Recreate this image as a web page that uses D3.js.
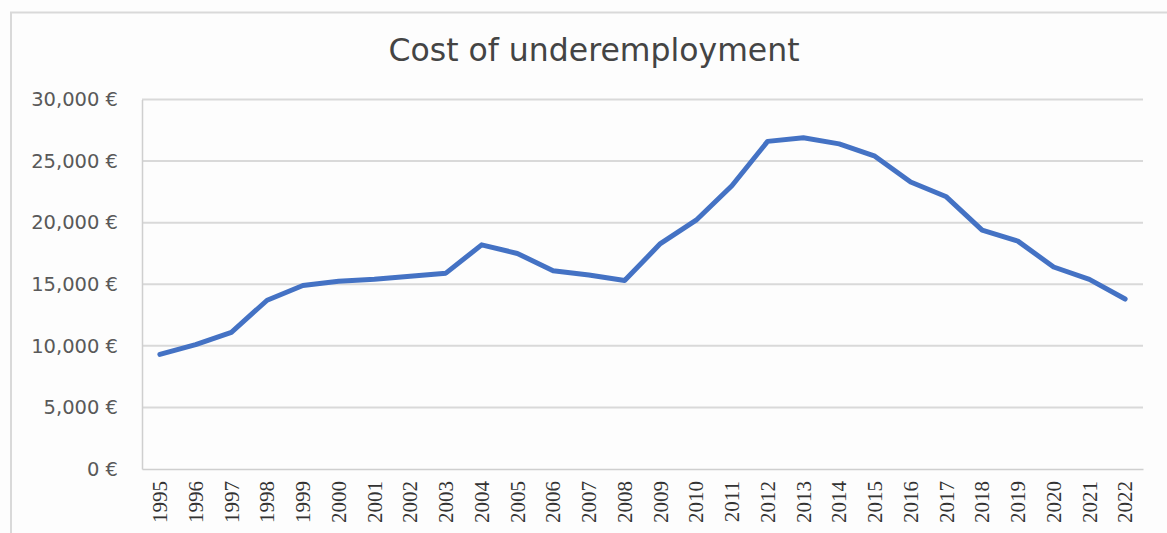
<!DOCTYPE html>
<html><head><meta charset="utf-8">
<script src="https://cdn.jsdelivr.net/npm/d3@7"></script>
<style>html,body{margin:0;padding:0;background:#fff;}</style>
</head><body>
<svg id="c" width="1167" height="533"></svg>
<script>
const years = ["1995","1996","1997","1998","1999","2000","2001","2002","2003","2004","2005","2006","2007","2008","2009","2010","2011","2012","2013","2014","2015","2016","2017","2018","2019","2020","2021","2022"];
const costs = [9300,10100,11100,13700,14900,15250,15400,15650,15900,18200,17500,16100,15750,15300,18300,20200,23000,26600,26900,26400,25400,23300,22100,19400,18500,16400,15400,13800];
const yTicks = [0,5000,10000,15000,20000,25000,30000];
const title = "Cost of underemployment";

const svg = d3.select("#c");
const W = 1167, H = 533;
const m = {left:142, right:1143, top:99.5, bottom:469};

svg.append("rect").attr("x",0).attr("y",0).attr("width",W).attr("height",H).attr("fill","#fdfdfd");
// frame
svg.append("path").attr("d",`M11,${H} L11,12.5 L${W},12.5`).attr("fill","none").attr("stroke","#d9d9d9").attr("stroke-width",2);

const x = d3.scaleBand().domain(years).range([m.left,m.right]);
const y = d3.scaleLinear().domain([0,30000]).range([m.bottom,m.top]);

// gridlines
svg.append("g").selectAll("line").data(yTicks.filter(d=>d>0)).join("line")
  .attr("x1",m.left).attr("x2",m.right).attr("y1",d=>y(d)).attr("y2",d=>y(d))
  .attr("stroke","#d9d9d9").attr("stroke-width",2);

// y axis
const yAxis = d3.axisLeft(y).tickValues(yTicks).tickSize(0).tickPadding(24)
  .tickFormat(d=>d3.format(",")(d)+" €");
const gy = svg.append("g").attr("transform",`translate(${m.left},0)`).call(yAxis);
gy.select(".domain").attr("stroke","#cfcfcf").attr("stroke-width",1.5);
gy.selectAll("text").attr("font-family","'DejaVu Sans', sans-serif").attr("font-size",19.5).attr("fill","#595959");

// x axis
const xAxis = d3.axisBottom(x).tickSize(0).tickPadding(0);
const gx = svg.append("g").attr("transform",`translate(0,${m.bottom})`).call(xAxis);
gx.select(".domain").attr("stroke","#cfcfcf").attr("stroke-width",1.5);
gx.selectAll("text")
  .attr("font-family","'Liberation Serif', serif").attr("font-size",21).attr("fill","#333333")
  .attr("text-anchor","end").attr("dy","0.35em")
  .attr("transform","rotate(-90)")
  .attr("y",0).attr("x",-12);

// line
const line = d3.line().x((d,i)=>x(years[i])+x.bandwidth()/2).y(d=>y(d));
svg.append("path").datum(costs).attr("d",line).attr("fill","none")
  .attr("stroke","#4472c4").attr("stroke-width",5).attr("stroke-linejoin","round").attr("stroke-linecap","round");

// title
svg.append("text").attr("x",594).attr("y",61).attr("text-anchor","middle")
  .attr("font-family","'DejaVu Sans', sans-serif").attr("font-size",31.5).attr("fill","#444444")
  .text(title);
</script>
</body></html>
